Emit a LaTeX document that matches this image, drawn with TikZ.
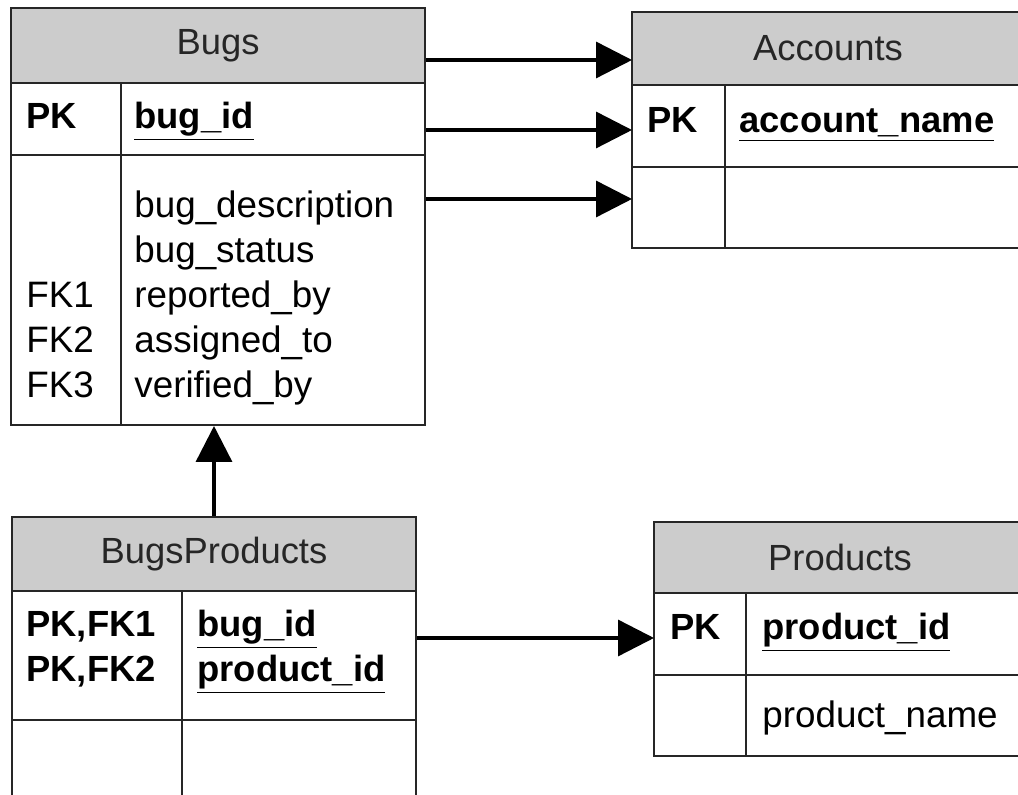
\documentclass[tikz,border=0pt]{standalone}
\usepackage{fontspec}
\setmainfont{Liberation Sans}
\usetikzlibrary{arrows.meta}
\definecolor{headgray}{HTML}{CCCCCC}

\begin{document}
\begin{tikzpicture}[x=0.5pt,y=-0.5pt,
  part/.style={draw=black!85,line width=1pt,inner sep=0pt},
  head/.style={part,fill=headgray,text=black!85,font=\fontsize{18.2}{22}\selectfont},
  key/.style={anchor=base west,inner sep=0pt,font=\bfseries\fontsize{18.2}{22}\selectfont},
  fld/.style={anchor=base west,inner sep=0pt,font=\fontsize{18.4}{22}\selectfont},
  fk/.style={line width=1.7pt,-{Triangle[length=18pt,width=18pt]}}]
\useasboundingbox (0,0) rectangle (1018,795);
\clip (0,0) rectangle (1018,795);

% Bugs
\node[head,minimum width=207pt,minimum height=37.5pt] (bugs-hd) at (218,45.5) {Bugs};
\node[part,minimum width=207pt,minimum height=36pt] (bugs-pk) at (218,119) {};
\node[part,minimum width=207pt,minimum height=135pt] (bugs-body) at (218,290) {};
\draw[part] (121,83) -- (121,425);
\node[key] (bugs-k0) at (26,129) {PK};
\node[key] (bugs-f0) at (134,129) {\underline{bug\_id}};
\node[fld] (bugs-f1) at (134,218) {bug\_description};
\node[fld] (bugs-f2) at (134,263) {bug\_status};
\node[fld] (bugs-k3) at (26,308) {FK1};
\node[fld] (bugs-f3) at (134,308) {reported\_by};
\node[fld] (bugs-k4) at (26,353) {FK2};
\node[fld] (bugs-f4) at (134,353) {assigned\_to};
\node[fld] (bugs-k5) at (26,398) {FK3};
\node[fld] (bugs-f5) at (134,398) {verified\_by};

% Accounts
\node[head,minimum width=196pt,minimum height=36.5pt] (acc-hd) at (828,48.5) {Accounts};
\node[part,minimum width=196pt,minimum height=41pt] (acc-pk) at (828,126) {};
\node[part,minimum width=196pt,minimum height=40.5pt] (acc-body) at (828,207.5) {};
\draw[part] (725,85) -- (725,248);
\node[key] (acc-k0) at (647,133) {PK};
\node[key] (acc-f0) at (739,133) {\underline{account\_name}};

% BugsProducts
\node[head,minimum width=202pt,minimum height=37pt] (bp-hd) at (214,554) {BugsProducts};
\node[part,minimum width=202pt,minimum height=64.5pt] (bp-pk) at (214,655.5) {};
\node[part,minimum width=202pt,minimum height=70pt] (bp-body) at (214,790) {};
\draw[part] (182,591) -- (182,860);
\node[key] (bp-k1) at (26,637) {PK,FK1};
\node[key] (bp-f1) at (197,637) {\underline{bug\_id}};
\node[key] (bp-k2) at (26,682) {PK,FK2};
\node[key] (bp-f2) at (197,682) {\underline{product\_id}};

% Products
\node[head,minimum width=186pt,minimum height=35.5pt] (prod-hd) at (840,557.5) {Products};
\node[part,minimum width=186pt,minimum height=41pt] (prod-pk) at (840,634) {};
\node[part,minimum width=186pt,minimum height=40.5pt] (prod-body) at (840,715.5) {};
\draw[part] (746,593) -- (746,756);
\node[key] (prod-k0) at (670,640) {PK};
\node[key] (prod-f0) at (762,640) {\underline{product\_id}};
\node[fld] (prod-f1) at (762,728) {product\_name};

% references
\coordinate (acc-in1) at (632,60);
\coordinate (acc-in2) at (632,130);
\coordinate (acc-in3) at (632,199);
\coordinate (prod-in) at (654,638);
\draw[fk] (bugs-hd.east |- acc-in1) -- (acc-in1);
\draw[fk] (bugs-pk.east |- acc-in2) -- (acc-in2);
\draw[fk] (bugs-body.east |- acc-in3) -- (acc-in3);
\draw[fk] (bp-hd.north) -- (bp-hd.north |- bugs-body.south);
\draw[fk] (bp-pk.east |- prod-in) -- (prod-in);
\end{tikzpicture}
\end{document}
